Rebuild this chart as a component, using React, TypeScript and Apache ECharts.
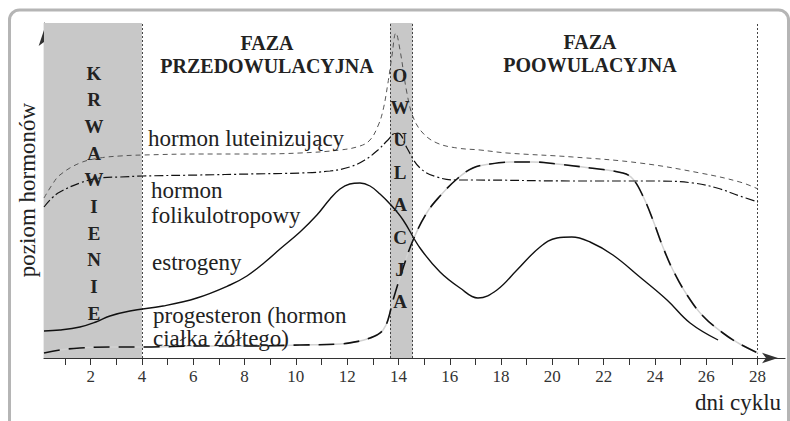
import React, { useEffect, useRef } from "react";
import * as echarts from "echarts";

const X_MIN = 0.18;
const X_MAX = 29.07;
const Y_MAX = 335;

const tickDays = [1, 2, 3, 4, 5, 6, 7, 8, 9, 10, 11, 12, 13, 14, 15, 16, 17, 18, 19, 20, 21, 22, 23, 24, 25, 26, 27, 28];
const labelDays = [2, 4, 6, 8, 10, 12, 14, 16, 18, 20, 22, 24, 26, 28];

const bleedingBand = [0.18, 4];
const ovulationBand = [13.67, 14.55];
const phaseLines = [4, 13.67, 14.55, 28];

const bleedingLetters = ["K", "R", "W", "A", "W", "I", "E", "N", "I", "E"];
const ovulationLetters = ["O", "W", "U", "L", "A", "C", "J", "A"];

// hormon luteinizujący
const lh = [
  [0.18, 160], [0.49, 173], [0.8, 183], [1.58, 195], [2.36, 200], [3.14, 202], [4.04, 203],
  [6.26, 204], [8.21, 204], [10.16, 205], [11.72, 208], [12.5, 212], [12.89, 218], [13.2, 232],
  [13.4, 248], [13.59, 275], [13.74, 301], [13.9, 325], [14.06, 308], [14.33, 265], [14.57, 241],
  [14.95, 225], [15.5, 215], [16.28, 210], [17.18, 208], [18.23, 205], [20.8, 201], [23.41, 195],
  [25.76, 185], [27.31, 176], [28.02, 169],
];

// hormon folikulotropowy
const fsh = [
  [0.18, 151], [0.49, 160], [0.8, 166], [1.58, 175], [2.36, 180], [3.14, 181], [4.04, 182],
  [6.26, 183], [8.21, 184], [10.16, 185], [11.33, 187], [12.1, 191], [12.69, 198], [13.2, 208],
  [13.59, 218], [13.9, 225], [14.06, 224], [14.33, 210], [14.84, 190], [15.5, 181], [16.28, 178],
  [16.9, 178], [20.8, 177], [24.08, 177], [25.49, 175], [26.42, 170], [27.31, 162], [28.02, 156],
];

// estrogeny
const estrogen = [
  [0.18, 27], [0.8, 28], [1.58, 31], [2.2, 36], [2.75, 42], [3.53, 47], [4.82, 52], [6.14, 60],
  [7.43, 73], [8.09, 82], [8.8, 96], [9.38, 109], [10.16, 126], [10.82, 143], [11.33, 159],
  [11.72, 169], [12.1, 174], [12.5, 175], [12.89, 172], [13.28, 164], [13.67, 154], [14.18, 138],
  [14.84, 110], [15.62, 86], [16.4, 70], [17.1, 60], [17.84, 68], [18.62, 88], [19.52, 111],
  [20.18, 120], [20.76, 121], [21.47, 116], [22.36, 103], [23.41, 81], [24.47, 58], [25.37, 35],
  [26.46, 18],
];

// progesteron
const progesterone = [
  [0.18, 5], [0.8, 8], [1.58, 10], [2.75, 11], [4.04, 11], [6.26, 12], [8.21, 12], [10.16, 13],
  [11.72, 14], [12.5, 17], [12.89, 20], [13.16, 23], [13.4, 28], [13.59, 38], [13.79, 58],
  [14.18, 90], [14.57, 118], [15.1, 145], [15.62, 162], [16.28, 179], [16.9, 190], [17.57, 194],
  [18.46, 196], [19.24, 196], [20.18, 194], [21.47, 190], [22.75, 185], [23.14, 179], [23.53, 162],
  [23.92, 138], [24.31, 111], [24.7, 88], [25.25, 63], [25.87, 42], [26.65, 25], [27.31, 14],
  [28.02, 5],
];

const SERIF = "Liberation Serif";

function txt(text: string, x: number, y: number, opts: any = {}) {
  const align = opts.align || "left";
  const size = opts.size || 23;
  return {
    type: "text",
    x,
    y,
    rotation: opts.rotation || 0,
    z: 100,
    style: {
      text,
      font: (opts.bold ? "bold " : "normal ") + size + "px " + SERIF,
      fill: opts.color || "#222",
      textAlign: align,
      textVerticalAlign: "middle",
    },
  };
}

export default function App() {
  const ref = useRef<HTMLDivElement>(null);

  useEffect(() => {
    if (!ref.current) return;
    const chart = echarts.init(ref.current, null, { renderer: "svg" });

    const graphics: any[] = [
      {
        type: "rect",
        z: 0,
        shape: { x: 9.5, y: 10, width: 779, height: 440, r: 10 },
        style: { fill: "none", stroke: "#b5b5b5", lineWidth: 3 },
      },
      txt("FAZA", 267, 43, { bold: true, size: 20, align: "center" }),
      txt("PRZEDOWULACYJNA", 267, 66, { bold: true, size: 20, align: "center" }),
      txt("FAZA", 590, 42, { bold: true, size: 20, align: "center" }),
      txt("POOWULACYJNA", 590, 65, { bold: true, size: 20, align: "center" }),
      txt("hormon luteinizujący", 148, 138),
      txt("hormon", 151, 190),
      txt("folikulotropowy", 151, 215),
      txt("estrogeny", 152, 262),
      txt("progesteron (hormon", 153, 315),
      txt("ciałka żółtego)", 153, 338),
      txt("dni cyklu", 738, 402, { align: "center" }),
      txt("poziom hormonów", 27, 190, { align: "center", rotation: Math.PI / 2 }),
    ];
    bleedingLetters.forEach((l, i) => {
      graphics.push(txt(l, 94, 73 + i * 26.7, { bold: true, size: 19, align: "center" }));
    });
    ovulationLetters.forEach((l, i) => {
      graphics.push(txt(l, 400, 75 + i * 32.4, { bold: true, size: 19, align: "center" }));
    });

    const lineBase = {
      type: "line",
      smooth: 0.4,
      showSymbol: false,
      silent: true,
      z: 5,
    };

    chart.setOption({
      animation: false,
      backgroundColor: "#ffffff",
      grid: { left: 44, right: 5, top: 23, bottom: 63, containLabel: false },
      xAxis: {
        type: "value",
        min: X_MIN,
        max: X_MAX,
        splitLine: { show: false },
        axisLine: {
          show: true,
          symbol: ["none", "arrow"],
          symbolSize: [8, 16],
          symbolOffset: [0, -7],
          lineStyle: { color: "#333", width: 1.2 },
        },
        axisTick: {
          show: true,
          length: 7,
          customValues: tickDays,
          lineStyle: { color: "#333", width: 1 },
        },
        axisLabel: {
          show: true,
          customValues: labelDays,
          fontFamily: SERIF,
          fontSize: 17,
          color: "#333",
          margin: 10,
        },
      },
      yAxis: {
        type: "value",
        min: 0,
        max: Y_MAX,
        splitLine: { show: false },
        axisTick: { show: false },
        axisLabel: { show: false },
        axisLine: {
          show: true,
          onZero: false,
          symbol: ["none", "arrow"],
          symbolSize: [8, 16],
          symbolOffset: [0, -7],
          lineStyle: { color: "#333", width: 1.2 },
        },
      },
      graphic: graphics,
      series: [
        {
          ...lineBase,
          name: "estrogeny",
          data: estrogen,
          lineStyle: { color: "#111", width: 1.4 },
          markArea: {
            silent: true,
            itemStyle: { color: "#c8c8c8" },
            data: [
              [{ xAxis: bleedingBand[0] }, { xAxis: bleedingBand[1] }],
              [{ xAxis: ovulationBand[0] }, { xAxis: ovulationBand[1] }],
            ],
          },
          markLine: {
            silent: true,
            symbol: ["none", "none"],
            label: { show: false },
            lineStyle: { type: [2, 2], color: "#444", width: 1 },
            data: phaseLines.map((x) => ({ xAxis: x })),
          },
        },
        {
          ...lineBase,
          name: "progesteron tło",
          data: progesterone,
          lineStyle: { color: "#d2d2d2", width: 1.5 },
        },
        {
          ...lineBase,
          name: "progesteron",
          data: progesterone,
          z: 6,
          lineStyle: { color: "#111", width: 1.6, type: [16, 9] },
        },
        {
          ...lineBase,
          name: "hormon luteinizujący",
          data: lh,
          lineStyle: { color: "#555", width: 1, type: [5, 4] },
        },
        {
          ...lineBase,
          name: "hormon folikulotropowy",
          data: fsh,
          lineStyle: { color: "#111", width: 1.2, type: [9, 3, 2, 3] },
        },
      ],
    });

    return () => chart.dispose();
  }, []);

  return (
    <div
      ref={ref}
      style={{ position: "fixed", left: 0, top: 0, width: 790, height: 421, background: "#fff" }}
    />
  );
}
